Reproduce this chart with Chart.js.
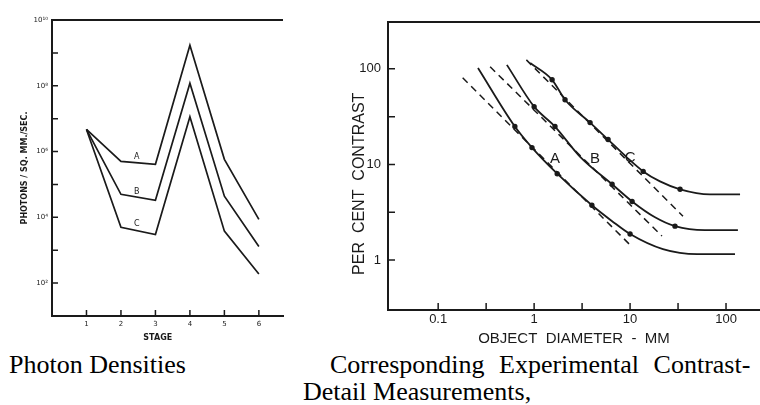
<!DOCTYPE html>
<html>
<head>
<meta charset="utf-8">
<script src="https://cdn.jsdelivr.net/npm/chart.js@4/dist/chart.umd.min.js"></script>
<style>
  body { margin: 0; background: #fff; width: 760px; height: 405px; overflow: hidden; position: relative; }
  #photons { position: absolute; left: 0; top: 0; }
  #contrast { position: absolute; left: 330px; top: 0; }
  .cap { position: absolute; font-family: "Liberation Serif", serif; font-size: 26px; line-height: 27px; color: #000; white-space: nowrap; }
</style>
</head>
<body>
<canvas id="photons" width="300" height="345"></canvas>
<canvas id="contrast" width="430" height="348"></canvas>
<div class="cap" style="left:9px; top:351px;">Photon Densities</div>
<div class="cap" style="left:330px; top:351px; word-spacing:8px;">Corresponding Experimental Contrast-</div>
<div class="cap" style="left:303px; top:378px;">Detail Measurements,</div>
<script>
// left chart: photons per sq. mm per sec at each stage
var stages = [1, 2, 3, 4, 5, 6];
var photonsA = [4.7e6, 5.0e5, 4.1e5, 1.7e9, 5.8e5, 8.7e3];
var photonsB = [4.7e6, 5.0e4, 3.3e4, 1.2e8, 4.4e4, 1.3e3];
var photonsC = [4.7e6, 5.0e3, 3.0e3, 1.15e7, 3.8e3, 1.9e2];
var photonTicks = [1e1, 1e2, 1e3, 1e4, 1e5, 1e6, 1e7, 1e8, 1e9, 1e10];
var photonLabels = { 2: '10²', 4: '10⁴', 6: '10⁶', 8: '10⁸', 10: '10¹⁰' };

// right chart: contrast vs object diameter (mm)
var diamA = [0.26, 0.63, 0.95, 1.74, 4.0, 6.5, 10, 22, 50, 124];
var contrastA = [102, 24.9, 15.0, 8.0, 3.74, 2.55, 1.87, 1.30, 1.15, 1.15];
var diamB = [0.52, 1.0, 1.65, 3.0, 6.5, 10.5, 18.2, 29.4, 60, 133];
var contrastB = [110, 40.2, 24.9, 12.1, 6.2, 4.1, 2.8, 2.26, 2.05, 2.05];
var diamC = [0.91, 1.54, 2.1, 3.83, 5.9, 9.3, 13.7, 20.5, 33.2, 68, 140];
var contrastC = [115, 76.8, 47.5, 27.4, 18.2, 11.8, 8.45, 6.65, 5.49, 4.87, 4.87];
var dotsA = [0, 1, 1, 1, 1, 0, 1, 0, 0, 0];
var dotsB = [0, 1, 1, 0, 1, 1, 0, 1, 0, 0];
var dotsC = [0, 1, 1, 1, 1, 0, 1, 0, 1, 0, 0];
// dashed slope -1 guide lines
var dashA = [[0.18, 80.5], [10.5, 1.37]];
var dashB = [[0.348, 105], [21.5, 1.78]];
var dashC = [[0.83, 124], [35.6, 2.87]];
var diamTicks = [0.1, 0.3162, 1, 3.162, 10, 31.62, 100];
var diamLabels = { 0.1: '0.1', 1: '1', 10: '10', 100: '100' };
var contrastTicks = [1, 3.162, 10, 31.62, 100];

function pts(xs, ys) { return xs.map(function (x, i) { return { x: x, y: ys[i] }; }); }

var ink = '#1a1a1a';

// draws the top frame line and tick marks pointing into the plot
var frame = {
  id: 'frame',
  afterDraw: function (chart, args, opts) {
    var ctx = chart.ctx, a = chart.chartArea, sx = chart.scales.x, sy = chart.scales.y;
    ctx.save();
    ctx.strokeStyle = ink;
    ctx.lineWidth = 2;
    ctx.beginPath();
    ctx.moveTo(a.left - 1, a.top);
    ctx.lineTo(a.right, a.top);
    ctx.stroke();
    ctx.lineWidth = 1.5;
    ctx.beginPath();
    sx.ticks.forEach(function (t) {
      var p = sx.getPixelForValue(t.value);
      ctx.moveTo(p, a.bottom);
      ctx.lineTo(p, a.bottom - opts.len);
    });
    sy.ticks.forEach(function (t) {
      var p = sy.getPixelForValue(t.value);
      ctx.moveTo(a.left, p);
      ctx.lineTo(a.left + opts.len, p);
    });
    ctx.stroke();
    // curve letters
    ctx.fillStyle = ink;
    ctx.font = opts.font;
    ctx.textAlign = 'center';
    ctx.textBaseline = 'middle';
    (opts.letters || []).forEach(function (l) {
      ctx.fillText(l[0], sx.getPixelForValue(l[1]), sy.getPixelForValue(l[2]));
    });
    ctx.restore();
  }
};

function line(data, opts) {
  return Object.assign({
    data: data,
    borderColor: ink,
    backgroundColor: ink,
    borderWidth: 1.7,
    pointRadius: 0,
    fill: false
  }, opts || {});
}

new Chart(document.getElementById('photons'), {
  type: 'line',
  data: {
    datasets: [
      line(pts(stages, photonsA)),
      line(pts(stages, photonsB)),
      line(pts(stages, photonsC))
    ]
  },
  options: {
    responsive: false,
    animation: false,
    layout: { padding: { top: 20, right: 17, left: 0, bottom: 0 } },
    plugins: {
      legend: { display: false },
      tooltip: { enabled: false },
      frame: { len: 6, font: '8px "DejaVu Sans"', letters: [['A', 2.46, 7.1e5], ['B', 2.46, 5.8e4], ['C', 2.46, 6.2e3]] }
    },
    scales: {
      x: {
        type: 'linear', min: 0, max: 6.7,
        afterBuildTicks: function (s) { s.ticks = stages.map(function (v) { return { value: v }; }); },
        afterFit: function (s) { s.height = 29; },
        grid: { display: false, drawTicks: false },
        border: { display: true, color: ink, width: 2 },
        ticks: { padding: 4, color: ink, font: { family: 'DejaVu Sans', size: 7 }, callback: function (v) { return v; } },
        title: { display: true, text: 'STAGE       ', color: ink, font: { family: 'DejaVu Sans', size: 8, weight: 'bold' }, padding: { top: 0, bottom: 2 } }
      },
      y: {
        type: 'logarithmic', min: 10, max: 1e10,
        afterBuildTicks: function (s) { s.ticks = photonTicks.map(function (v) { return { value: v }; }); },
        afterFit: function (s) { s.width = 52; },
        grid: { display: false, drawTicks: false },
        border: { display: true, color: ink, width: 2 },
        ticks: {
          padding: 4, color: ink, font: { family: 'DejaVu Sans', size: 7 },
          callback: function (v) { return photonLabels[Math.round(Math.log10(v))] || ''; }
        },
        title: { display: true, text: 'PHOTONS / SQ. MM./SEC.', color: ink, font: { family: 'DejaVu Sans', size: 8, weight: 'bold' }, padding: { top: 20, bottom: 0 } }
      }
    }
  },
  plugins: [frame]
});

function dotted(flags) { return flags.map(function (f) { return f ? 1.8 : 0; }); }

new Chart(document.getElementById('contrast'), {
  type: 'line',
  data: {
    datasets: [
      line(pts(diamA, contrastA), { cubicInterpolationMode: 'monotone', borderWidth: 1.8, pointRadius: dotted(dotsA) }),
      line(pts(diamB, contrastB), { cubicInterpolationMode: 'monotone', borderWidth: 1.8, pointRadius: dotted(dotsB) }),
      line(pts(diamC, contrastC), { cubicInterpolationMode: 'monotone', borderWidth: 1.8, pointRadius: dotted(dotsC) }),
      line(pts(dashA.map(function (p) { return p[0]; }), dashA.map(function (p) { return p[1]; })), { borderDash: [7, 5], borderWidth: 1.5 }),
      line(pts(dashB.map(function (p) { return p[0]; }), dashB.map(function (p) { return p[1]; })), { borderDash: [7, 5], borderWidth: 1.5 }),
      line(pts(dashC.map(function (p) { return p[0]; }), dashC.map(function (p) { return p[1]; })), { borderDash: [7, 5], borderWidth: 1.5 })
    ]
  },
  options: {
    responsive: false,
    animation: false,
    layout: { padding: { top: 22, right: 0, left: 0, bottom: 0 } },
    plugins: {
      legend: { display: false },
      tooltip: { enabled: false },
      frame: { len: 7, font: '15px "Liberation Sans"', letters: [['A', 1.65, 11.3], ['B', 4.3, 11.3], ['C', 10, 11.8]] }
    },
    scales: {
      x: {
        type: 'logarithmic', min: 0.030, max: 226,
        afterBuildTicks: function (s) { s.ticks = diamTicks.map(function (v) { return { value: v }; }); },
        afterFit: function (s) { s.height = 38; },
        grid: { display: false, drawTicks: false },
        border: { display: true, color: ink, width: 2 },
        ticks: {
          padding: 2, color: ink, maxRotation: 0, autoSkip: false, font: { family: 'Liberation Sans', size: 13 },
          callback: function (v) { return diamLabels[v] || ''; }
        },
        title: { display: true, text: 'OBJECT  DIAMETER  -  MM', color: ink, font: { family: 'Liberation Sans', size: 15 }, padding: { top: 0, bottom: 0 } }
      },
      y: {
        type: 'logarithmic', min: 0.309, max: 309,
        afterBuildTicks: function (s) { s.ticks = contrastTicks.map(function (v) { return { value: v }; }); },
        afterFit: function (s) { s.width = 58; },
        grid: { display: false, drawTicks: false },
        border: { display: true, color: ink, width: 2 },
        ticks: {
          padding: 7, color: ink, font: { family: 'Liberation Sans', size: 13 },
          callback: function (v) { return [1, 10, 100].indexOf(v) >= 0 ? String(v) : ''; }
        },
        title: { display: true, text: 'PER  CENT  CONTRAST        ', color: ink, font: { family: 'Liberation Sans', size: 16 }, padding: { top: 20, bottom: 0 } }
      }
    }
  },
  plugins: [frame]
});
</script>
</body>
</html>
